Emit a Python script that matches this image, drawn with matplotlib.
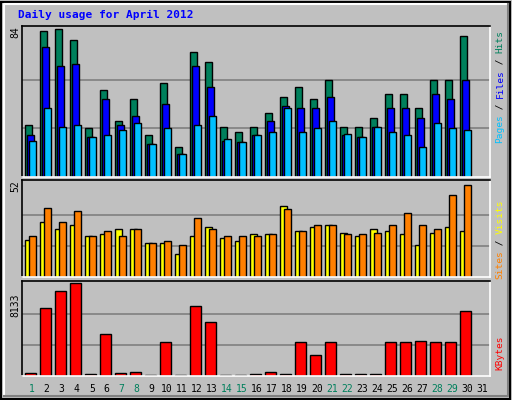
import numpy as np
import matplotlib.pyplot as plt

days = np.arange(1, 32)
hits = [30, 84, 85, 79, 28, 50, 32, 45, 24, 54, 17, 72, 66, 29, 26, 29, 37, 46, 52, 45, 56, 29, 29, 34, 48, 48, 40, 56, 56, 81, 0]
files = [24, 75, 64, 65, 23, 45, 30, 35, 19, 42, 13, 64, 52, 21, 20, 24, 32, 41, 40, 40, 46, 24, 23, 29, 40, 40, 34, 48, 45, 56, 0]
pages = [21, 40, 29, 30, 23, 24, 27, 31, 19, 28, 13, 30, 35, 22, 20, 24, 26, 40, 26, 28, 32, 25, 23, 29, 26, 24, 17, 31, 28, 27, 0]
visits = [21, 31, 27, 29, 23, 24, 27, 27, 19, 19, 13, 23, 28, 22, 20, 24, 24, 40, 26, 28, 29, 25, 23, 27, 26, 24, 18, 25, 28, 26, 0]
sites = [23, 39, 31, 37, 23, 26, 23, 27, 19, 20, 18, 33, 27, 23, 23, 23, 24, 38, 26, 29, 29, 24, 24, 25, 29, 36, 29, 27, 46, 52, 0]
kbytes = [297, 5996, 7420, 8133, 208, 3680, 297, 386, 119, 2968, 119, 6174, 4749, 119, 119, 208, 386, 208,
          2968, 1810, 2968, 208, 208, 208, 2968, 2968, 3057, 2968, 2968, 5728, 0]
weekends = [1, 7, 8, 14, 15, 21, 22, 28, 29]

W, H = 512, 400
BG = '#c0c0c0'
GREEN, BLUE, CYAN = '#00805c', '#0000ff', '#00c0ff'
YELLOW, ORANGE, RED = '#ffff00', '#ff8000', '#ff0000'

fig = plt.figure(figsize=(W / 100, H / 100), dpi=100, facecolor=BG)


def px_axes(x0, y0, x1, y1):
    return fig.add_axes([x0 / W, 1 - y1 / H, (x1 - x0) / W, (y1 - y0) / H])


def setup(ax, top, ymax):
    ax.set_facecolor(BG)
    ax.set_xlim(0.8, 32.0)
    ax.set_ylim(0, ymax * top)
    ax.set_xticks([])
    ax.set_yticks([])
    for y in (ymax / 3, 2 * ymax / 3):
        ax.axhline(y, color='#808080', lw=1.2, zorder=0)
    ax.spines['top'].set_color('black')
    ax.spines['left'].set_color('black')
    ax.spines['bottom'].set_color('white')
    ax.spines['right'].set_color('white')
    for s in ax.spines.values():
        s.set_linewidth(1.2)


def bars(ax, offset, vals, width, color, vmax):
    v = np.array(vals, dtype=float)
    m = v > 0
    # tiny values still show as a thin bar, like the original
    v = np.maximum(v, vmax * 0.012)
    ax.bar(days[m] + offset, v[m], width=width, align='edge', color=color,
           edgecolor='black', linewidth=1)


# top panel: hits / files / pages
ax1 = px_axes(22, 26, 490, 177)
setup(ax1, 1.035, 84)
bars(ax1, 0.0, hits, 0.47, GREEN, 84)
bars(ax1, 0.13, files, 0.47, BLUE, 84)
bars(ax1, 0.27, pages, 0.47, CYAN, 84)

# middle panel: visits / sites
ax2 = px_axes(22, 180, 490, 277)
setup(ax2, 1.05, 52)
bars(ax2, 0.0, visits, 0.47, YELLOW, 52)
bars(ax2, 0.27, sites, 0.47, ORANGE, 52)

# bottom panel: kbytes
ax3 = px_axes(22, 281, 490, 376)
setup(ax3, 1.025, 8133)
bars(ax3, 0.0, kbytes, 0.7, RED, 8133)

# outer bevel
fig.add_artist(plt.Rectangle((0.002, 0.002), 0.994, 0.994, transform=fig.transFigure,
                             fill=False, edgecolor='black', lw=1.5))
fig.add_artist(plt.Line2D([4 / W, 4 / W, 1 - 4 / W], [4 / H, 1 - 4 / H, 1 - 4 / H],
                          transform=fig.transFigure, color='white', lw=1.5))
fig.add_artist(plt.Line2D([4 / W, 1 - 4 / W, 1 - 4 / W], [4 / H, 4 / H, 1 - 4 / H],
                          transform=fig.transFigure, color='#808080', lw=1.5))

mono = 'DejaVu Sans Mono'
fig.text(18 / W, 1 - 15 / H, 'Daily usage for April 2012', color='#0000ff', family=mono,
         fontweight='bold', fontsize=8, va='center', ha='left')

# left max labels
for y0, label in ((32, '84'), (186, '52'), (305, '8133')):
    fig.text(15 / W, 1 - y0 / H, label, rotation=90, family=mono, fontsize=7,
             ha='center', va='center')

# day labels
for d in days:
    fig.text((22 + (d + 0.45 - 0.8) * 15) / W, 1 - 389 / H, str(d), family=mono, fontsize=7,
             ha='center', va='center', color='#00805c' if d in weekends else 'black')

# right side labels, multicoloured, reading upward
fs = 6.8
adv = 0.6 * fs * 100 / 72


def right_label(parts, y_top):
    n = sum(len(t) for t, _ in parts)
    y = y_top + n * adv
    for t, c in parts:
        fig.text(500 / W, 1 - y / H, t, rotation=90, family=mono, fontsize=fs,
                 color=c, ha='center', va='bottom')
        y -= len(t) * adv


right_label([('Pages', CYAN), (' / ', 'black'), ('Files', BLUE), (' / ', 'black'), ('Hits', GREEN)], 30)
right_label([('Sites', ORANGE), (' / ', 'black'), ('Visits', YELLOW)], 200)
right_label([('KBytes', RED)], 336)

fig.savefig('out.png', dpi=100, facecolor=BG)
